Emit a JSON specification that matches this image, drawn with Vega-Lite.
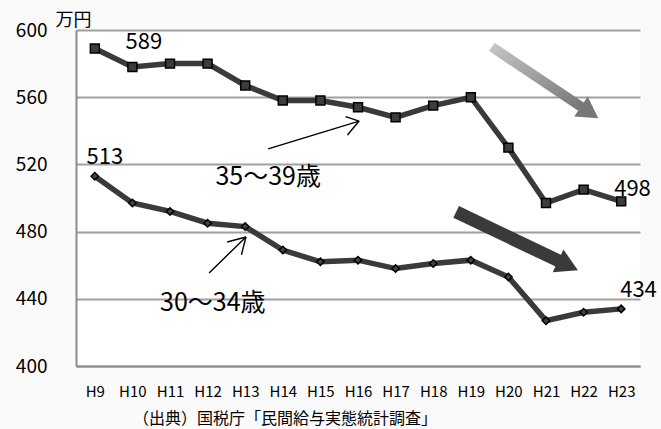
{
  "$schema": "https://vega.github.io/schema/vega-lite/v6.json",
  "width": 564,
  "height": 336,
  "autosize": "none",
  "padding": {"left": 76, "top": 30, "right": 21, "bottom": 63},
  "background": "#fafafa",
  "config": {
    "font": "Noto Sans CJK JP",
    "view": {"stroke": null, "fill": "#ffffff"}
  },
  "title": {
    "text": "（出典）国税庁「民間給与実態統計調査」",
    "orient": "bottom",
    "anchor": "middle",
    "frame": "group",
    "dx": -73,
    "offset": 12,
    "fontSize": 16,
    "fontWeight": "normal",
    "color": "#000000"
  },
  "datasets": {
    "wages": [
      {"year": 9, "grp": "35～39歳", "value": 589},
      {"year": 10, "grp": "35～39歳", "value": 578},
      {"year": 11, "grp": "35～39歳", "value": 580},
      {"year": 12, "grp": "35～39歳", "value": 580},
      {"year": 13, "grp": "35～39歳", "value": 567},
      {"year": 14, "grp": "35～39歳", "value": 558},
      {"year": 15, "grp": "35～39歳", "value": 558},
      {"year": 16, "grp": "35～39歳", "value": 554},
      {"year": 17, "grp": "35～39歳", "value": 548},
      {"year": 18, "grp": "35～39歳", "value": 555},
      {"year": 19, "grp": "35～39歳", "value": 560},
      {"year": 20, "grp": "35～39歳", "value": 530},
      {"year": 21, "grp": "35～39歳", "value": 497},
      {"year": 22, "grp": "35～39歳", "value": 505},
      {"year": 23, "grp": "35～39歳", "value": 498},
      {"year": 9, "grp": "30～34歳", "value": 513},
      {"year": 10, "grp": "30～34歳", "value": 497},
      {"year": 11, "grp": "30～34歳", "value": 492},
      {"year": 12, "grp": "30～34歳", "value": 485},
      {"year": 13, "grp": "30～34歳", "value": 483},
      {"year": 14, "grp": "30～34歳", "value": 469},
      {"year": 15, "grp": "30～34歳", "value": 462},
      {"year": 16, "grp": "30～34歳", "value": 463},
      {"year": 17, "grp": "30～34歳", "value": 458},
      {"year": 18, "grp": "30～34歳", "value": 461},
      {"year": 19, "grp": "30～34歳", "value": 463},
      {"year": 20, "grp": "30～34歳", "value": 453},
      {"year": 21, "grp": "30～34歳", "value": 427},
      {"year": 22, "grp": "30～34歳", "value": 432},
      {"year": 23, "grp": "30～34歳", "value": 434}
    ],
    "pointers": [
      {"x": 13.61, "y": 529.2, "x2": 16.03, "y2": 545.8},
      {"x": 16.03, "y": 545.8, "x2": 15.67, "y2": 548.4},
      {"x": 16.03, "y": 545.8, "x2": 15.72, "y2": 537.5},
      {"x": 12.04, "y": 455.4, "x2": 13.02, "y2": 476.8},
      {"x": 13.02, "y": 476.8, "x2": 12.52, "y2": 473.8},
      {"x": 13.02, "y": 476.8, "x2": 12.9, "y2": 466.1}
    ],
    "trend": [
      {"tone": "light", "x": 19.56, "y": 589.9, "x2": 21.94, "y2": 554.2, "hx": 22.16, "hy": 550.95},
      {"tone": "dark", "x": 18.61, "y": 491.7, "x2": 21.4, "y2": 461.9, "hx": 21.585, "hy": 459.8}
    ],
    "names": [
      {"name": "35～39歳", "x": 13.61, "y": 512.5},
      {"name": "30～34歳", "x": 12.14, "y": 437.5}
    ]
  },
  "encoding": {
    "x": {
      "field": "year",
      "type": "quantitative",
      "scale": {"domain": [8.5, 23.5], "nice": false, "zero": false},
      "axis": {
        "title": null,
        "values": [9, 10, 11, 12, 13, 14, 15, 16, 17, 18, 19, 20, 21, 22, 23],
        "labelExpr": "'H' + datum.value",
        "grid": false,
        "ticks": false,
        "domainColor": "#8c8c8c",
        "domainWidth": 2,
        "labelPadding": 18,
        "labelFontSize": 15,
        "labelColor": "#000000"
      }
    },
    "y": {
      "field": "value",
      "type": "quantitative",
      "scale": {"domain": [400, 600], "nice": false, "zero": false},
      "axis": {
        "title": "万円",
        "titleAngle": 0,
        "titleX": -21,
        "titleY": -10,
        "titleAlign": "left",
        "titleBaseline": "middle",
        "titleFontSize": 18,
        "titleFontWeight": "normal",
        "titleColor": "#000000",
        "values": [400, 440, 480, 520, 560, 600],
        "grid": true,
        "gridColor": "#a0a0a0",
        "gridWidth": 1.8,
        "ticks": false,
        "domainColor": "#8c8c8c",
        "domainWidth": 2,
        "labelPadding": 29,
        "labelFontSize": 19,
        "labelColor": "#000000"
      }
    }
  },
  "layer": [
    {
      "data": {"name": "wages"},
      "mark": {"type": "line", "color": "#3a3a3a", "strokeWidth": 5.5},
      "encoding": {"detail": {"field": "grp"}}
    },
    {
      "data": {"name": "wages"},
      "transform": [{"filter": "datum.grp === '35～39歳'"}],
      "mark": {"type": "point", "shape": "square", "size": 80, "filled": true, "fill": "#3c3c3c", "stroke": "#000000", "strokeWidth": 1.5, "opacity": 1}
    },
    {
      "data": {"name": "wages"},
      "transform": [{"filter": "datum.grp === '30～34歳'"}],
      "mark": {"type": "point", "shape": "diamond", "size": 55, "filled": true, "fill": "#444444", "stroke": "#000000", "strokeWidth": 1.5, "opacity": 1}
    },
    {
      "data": {"name": "wages"},
      "transform": [{"filter": "datum.grp === '35～39歳' && datum.year === 9"}],
      "mark": {"type": "text", "fontSize": 22, "align": "center", "baseline": "middle", "dx": 49, "dy": -6, "color": "#000000"},
      "encoding": {"text": {"field": "value"}}
    },
    {
      "data": {"name": "wages"},
      "transform": [{"filter": "datum.grp === '30～34歳' && datum.year === 9"}],
      "mark": {"type": "text", "fontSize": 22, "align": "center", "baseline": "middle", "dx": 10, "dy": -19, "color": "#000000"},
      "encoding": {"text": {"field": "value"}}
    },
    {
      "data": {"name": "wages"},
      "transform": [{"filter": "datum.grp === '35～39歳' && datum.year === 23"}],
      "mark": {"type": "text", "fontSize": 22, "align": "left", "baseline": "middle", "dx": -7, "dy": -12, "color": "#000000"},
      "encoding": {"text": {"field": "value"}}
    },
    {
      "data": {"name": "wages"},
      "transform": [{"filter": "datum.grp === '30～34歳' && datum.year === 23"}],
      "mark": {"type": "text", "fontSize": 22, "align": "left", "baseline": "middle", "dx": -1, "dy": -19, "color": "#000000"},
      "encoding": {"text": {"field": "value"}}
    },
    {
      "data": {"name": "names"},
      "mark": {"type": "text", "fontSize": 25, "align": "center", "baseline": "middle", "color": "#000000"},
      "encoding": {
        "x": {"field": "x", "type": "quantitative"},
        "y": {"field": "y", "type": "quantitative"},
        "text": {"field": "name"}
      }
    },
    {
      "data": {"name": "pointers"},
      "mark": {"type": "rule", "color": "#000000", "strokeWidth": 1.4},
      "encoding": {
        "x": {"field": "x", "type": "quantitative"},
        "y": {"field": "y", "type": "quantitative"},
        "x2": {"field": "x2"},
        "y2": {"field": "y2"}
      }
    },
    {
      "data": {"name": "trend"},
      "transform": [{"filter": "datum.tone === 'light'"}],
      "mark": {
        "type": "rule",
        "strokeWidth": 10,
        "strokeCap": "butt",
        "stroke": {
          "gradient": "linear",
          "x1": 0, "y1": 0, "x2": 1, "y2": 1,
          "stops": [
            {"offset": 0, "color": "#c4c4c4"},
            {"offset": 1, "color": "#777777"}
          ]
        }
      },
      "encoding": {
        "x": {"field": "x", "type": "quantitative"},
        "y": {"field": "y", "type": "quantitative"},
        "x2": {"field": "x2"},
        "y2": {"field": "y2"}
      }
    },
    {
      "data": {"name": "trend"},
      "transform": [{"filter": "datum.tone === 'light'"}],
      "mark": {"type": "point", "shape": "triangle-right", "size": 580, "angle": 34, "filled": true, "color": "#777777", "opacity": 1},
      "encoding": {
        "x": {"field": "hx", "type": "quantitative"},
        "y": {"field": "hy", "type": "quantitative"}
      }
    },
    {
      "data": {"name": "trend"},
      "transform": [{"filter": "datum.tone === 'dark'"}],
      "mark": {"type": "rule", "strokeWidth": 13, "strokeCap": "butt", "color": "#3a3a3a"},
      "encoding": {
        "x": {"field": "x", "type": "quantitative"},
        "y": {"field": "y", "type": "quantitative"},
        "x2": {"field": "x2"},
        "y2": {"field": "y2"}
      }
    },
    {
      "data": {"name": "trend"},
      "transform": [{"filter": "datum.tone === 'dark'"}],
      "mark": {"type": "point", "shape": "triangle-right", "size": 640, "angle": 25, "filled": true, "color": "#3a3a3a", "opacity": 1},
      "encoding": {
        "x": {"field": "hx", "type": "quantitative"},
        "y": {"field": "hy", "type": "quantitative"}
      }
    }
  ]
}
